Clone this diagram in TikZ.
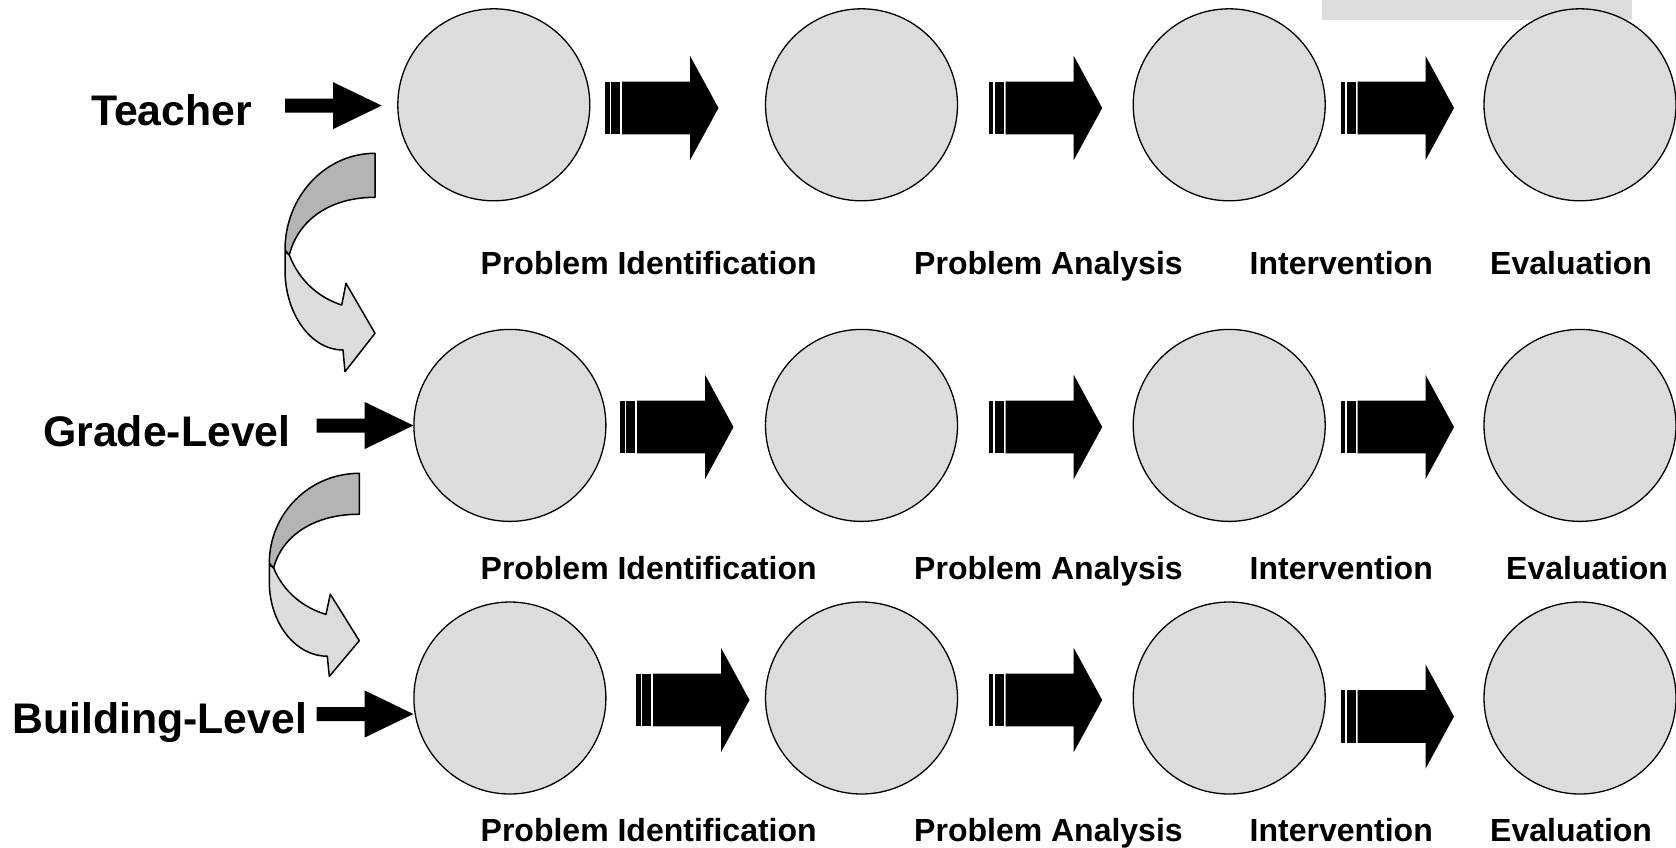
\documentclass[tikz,border=0pt]{standalone}
\usepackage{fontspec}
\setmainfont{Liberation Sans}
\definecolor{stagefill}{HTML}{DCDCDC}
\definecolor{bendfill}{HTML}{B4B4B4}
\begin{document}
\begin{tikzpicture}[x=1pt,y=-1pt,
  stage/.style={circle,draw=black,line width=1.3pt,fill=stagefill,minimum size=192pt,inner sep=0pt},
  level/.style={font=\fontsize{42.8}{50}\selectfont\bfseries,anchor=base west,inner sep=0pt},
  phase/.style={font=\fontsize{32}{38}\selectfont\bfseries,anchor=base west,inner sep=0pt},
  stripedarrow/.pic={
    \fill[black] (0,-26.3) rectangle (4.5,26.3);
    \fill[black] (6.3,-26.3) rectangle (15.3,26.3);
    \fill[black] (17,-26.3) -- (85,-26.3) -- (85,-52.2) -- (113.5,0)
      -- (85,52.2) -- (85,26.3) -- (17,26.3) -- cycle;
  },
  entryarrow/.pic={
    \fill[black] (0,-7) -- (48,-7) -- (48,-23.5) -- (96.7,0)
      -- (48,23.5) -- (48,7) -- (0,7) -- cycle;
  },
  bendarrow/.pic={
    % lower, lighter band with the arrow head
    \filldraw[fill=stagefill,draw=black,line width=1.5pt,line join=round]
      (-85.7,101.7) .. controls (-75.3,128.7) and (-55,144.7) .. (-33.3,151.7)
      -- (-29,130) -- (0,180) -- (-30,218.4) -- (-32,196.7)
      .. controls (-64,196.7) and (-90,160.7) .. (-90,116.7)
      -- (-90,98) -- cycle;
    % upper, darker band
    \filldraw[fill=bendfill,draw=black,line width=1.5pt,line join=round]
      (0,0) .. controls (-49.7,0) and (-90,43.1) .. (-90,96.7)
      -- (-85.7,101.7) .. controls (-77,66.7) and (-45,44) .. (0,44) -- cycle;
  }]
\useasboundingbox (0,0) rectangle (1676,847);

% grey bar at the top edge
\fill[stagefill] (1321.7,0) rectangle (1631.7,20);

% stage circles
\node[stage] (c11) at (493.8,104.8) {};
\node[stage] (c12) at (861.5,104.8) {};
\node[stage] (c13) at (1229.2,104.8) {};
\node[stage] (c14) at (1580,104.8) {};
\node[stage] (c21) at (509.9,425.4) {};
\node[stage] (c22) at (861.5,425.4) {};
\node[stage] (c23) at (1229.2,425.4) {};
\node[stage] (c24) at (1580,425.4) {};
\node[stage] (c31) at (509.9,698) {};
\node[stage] (c32) at (861.5,698) {};
\node[stage] (c33) at (1229.2,698) {};
\node[stage] (c34) at (1580,698) {};

% arrows between stages
\pic at (605,108) {stripedarrow};
\pic at (988.7,108) {stripedarrow};
\pic at (1340.5,108) {stripedarrow};
\pic at (620,427) {stripedarrow};
\pic at (988.7,427) {stripedarrow};
\pic at (1340.5,427) {stripedarrow};
\pic at (636,700) {stripedarrow};
\pic at (988.7,700) {stripedarrow};
\pic at (1340.5,716.5) {stripedarrow};

% level labels and their entry arrows
\node[level] (teacher) at (91,125.5) {Teacher};
\node[level] (grade) at (43,446) {Grade-Level};
\node[level] (building) at (12,733.5) {Building-Level};
\pic at (285,105.6) {entryarrow};
\pic at (316.7,425.5) {entryarrow};
\pic at (316.7,714) {entryarrow};

% hand-over arrows between levels
\pic at (375,153.3) {bendarrow};
\pic[yscale=0.93] at (359.3,473.3) {bendarrow};

% phase labels
\node[phase] (p11) at (480.5,274.4) {Problem Identification};
\node[phase] (p12) at (914,274.4) {Problem Analysis};
\node[phase] (p13) at (1249.5,274.4) {Intervention};
\node[phase] (p14) at (1490,274.4) {Evaluation};
\node[phase] (p21) at (480.5,579) {Problem Identification};
\node[phase] (p22) at (914,579) {Problem Analysis};
\node[phase] (p23) at (1249.5,579) {Intervention};
\node[phase] (p24) at (1506,579) {Evaluation};
\node[phase] (p31) at (480.5,841) {Problem Identification};
\node[phase] (p32) at (914,841) {Problem Analysis};
\node[phase] (p33) at (1249.5,841) {Intervention};
\node[phase] (p34) at (1490,841) {Evaluation};
\end{tikzpicture}
\end{document}
